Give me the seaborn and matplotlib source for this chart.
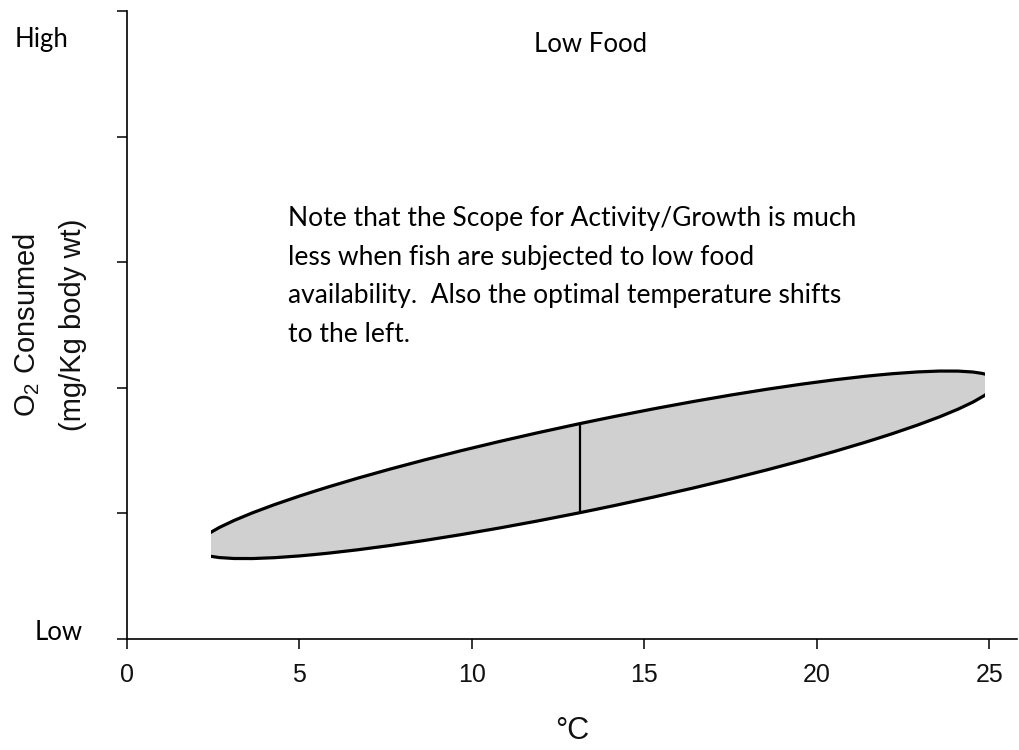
import numpy as np
import matplotlib
matplotlib.use("Agg")
import matplotlib.pyplot as plt
from matplotlib.patches import Ellipse, Rectangle
from matplotlib.transforms import Affine2D
import seaborn as sns

# Temperature axis (deg C) and relative O2 consumption scale
x_ticks = [0, 5, 10, 15, 20, 25]
y_ticks = [0, 1, 2, 3, 4, 5]

# Scope-for-activity envelope: a sheared ellipse clipped to the tolerated range
env_center_t = 13.6       # deg C at the envelope centre
env_center_o2 = 1.388     # O2 level of the envelope midline at the centre
env_half_span = 11.6      # half length along temperature
env_half_scope = 0.355    # half height of the scope
env_slope = 0.0567        # rise of the midline per deg C
t_min, t_max = 2.43, 24.86  # tolerated temperature range
t_opt = 13.13               # optimal temperature

note = ("Note that the Scope for Activity/Growth is much\n"
        "less when fish are subjected to low food\n"
        "availability.  Also the optimal temperature shifts\n"
        "to the left.")

sns.set_theme(style="ticks")
plt.rcParams["font.family"] = ["Liberation Sans", "DejaVu Sans"]
plt.rcParams["mathtext.fontset"] = "custom"
plt.rcParams["mathtext.rm"] = "Liberation Sans"

fig = plt.figure(figsize=(10.19, 7.5), dpi=100)
ax = fig.add_axes([0.1246, 0.148, 0.8734, 0.8367])

ax.set_xlim(0, 25.8)
ax.set_ylim(0, 5)

# Envelope: ellipse sheared so its midline follows the rising trend
shear = Affine2D(np.array([[1.0, 0.0, 0.0],
                           [env_slope, 1.0, -env_slope * env_center_t],
                           [0.0, 0.0, 1.0]]))
env = Ellipse((env_center_t, env_center_o2), 2 * env_half_span, 2 * env_half_scope,
              facecolor="#d0d0d0", edgecolor="black", linewidth=2.3,
              transform=shear + ax.transData, zorder=2)
ax.add_patch(env)
clip = Rectangle((t_min, -1), t_max - t_min, 10, transform=ax.transData)
env.set_clip_path(clip)

# Optimal temperature marker spanning the scope
mid_opt = env_center_o2 + env_slope * (t_opt - env_center_t)
half_opt = env_half_scope * np.sqrt(1 - ((t_opt - env_center_t) / env_half_span) ** 2)
ax.vlines(t_opt, mid_opt - half_opt, mid_opt + half_opt, color="black",
          linewidth=1.6, zorder=3)

ax.set_xticks(x_ticks)
ax.set_xticklabels([str(v) for v in x_ticks])
ax.set_yticks(y_ticks)
ax.set_yticklabels([])
ax.tick_params(axis="both", direction="out", length=7, width=1.1, color="black",
               labelsize=18, labelcolor="#111111", pad=10)
sns.despine(ax=ax)
for side in ("left", "bottom"):
    ax.spines[side].set_linewidth(1.2)
    ax.spines[side].set_color("black")

ax.set_xlabel("°C", fontsize=22, labelpad=21, color="#111111")
ax.set_ylabel("O$_\\mathregular{2}$ Consumed\n(mg/Kg body wt)", fontsize=21,
              linespacing=1.78, labelpad=12, color="#111111")

label_font = ["Lato", "DejaVu Sans"]
fig.text(15 / 1019, 1 - 40 / 750, "High", fontsize=18.5, family=label_font,
         ha="left", va="center", color="black")
fig.text(83 / 1019, 1 - 632 / 750, "Low", fontsize=18.5, family=label_font,
         ha="right", va="center", color="black")
fig.text(591 / 1019, 1 - 45 / 750, "Low Food", fontsize=18.5, family=label_font,
         ha="center", va="center", color="black")
fig.text(288 / 1019, 1 - 206 / 750, note, fontsize=19, family=label_font,
         ha="left", va="top", linespacing=1.68, color="black")

fig.savefig("out.png", dpi=100, facecolor="white")
